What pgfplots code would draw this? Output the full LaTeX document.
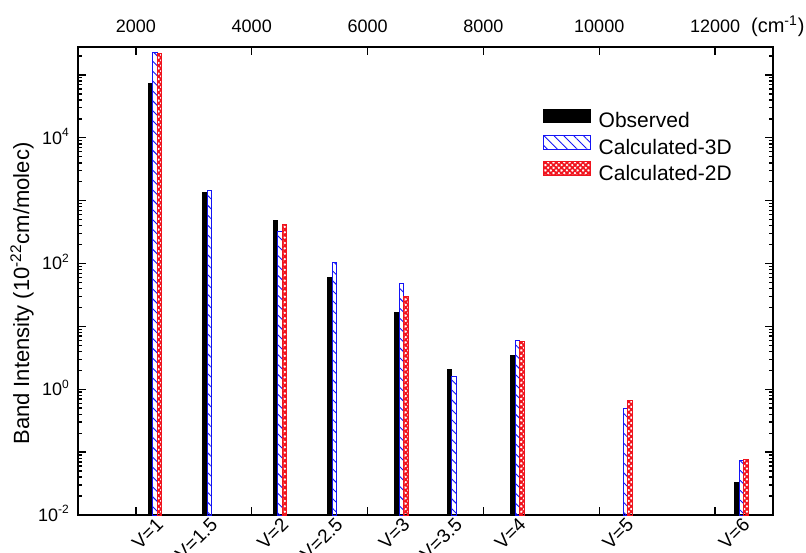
\documentclass[border=0pt]{standalone}
\usepackage{fontspec}
\setmainfont{Liberation Sans}
\usepackage{pgfplots}
\pgfplotsset{compat=1.18}
\usetikzlibrary{patterns.meta}
\definecolor{cB}{RGB}{20,20,245}
\definecolor{cR}{RGB}{240,20,30}
\tikzset{
  hatchB/.style={pattern={Lines[angle=-45,distance=3.5pt,line width=0.45pt]},pattern color=cB},
  hatchR/.style={pattern={Hatch[angle=45,distance=1.9pt,line width=0.85pt]},pattern color=cR},
}
\pgfplotsset{
  myframe/.style={
    at={(0,0)}, anchor=south west, scale only axis,
    width=347.5pt, height=234pt,
    xmin=1000, xmax=13000,
  },
}

\begin{document}
\begin{tikzpicture}
\useasboundingbox (-39pt,-18.5pt) rectangle (364pt,257.5pt);

% main axis: bars, log y, wavenumber ticks on top
\begin{axis}[
  myframe, clip mode=individual,
  ymode=log, ymin=1e-2, ymax=2.78e5, log origin y=infty,
  xtick={2000,4000,6000,8000,10000,12000},
  scaled x ticks=false,
  xticklabel pos=upper,
  xticklabel style={anchor=base, yshift=7.2pt,
    /pgf/number format/1000 sep={}, /pgf/number format/assume math mode=true},
  ytick={1e-2,1e-1,1,1e1,1e2,1e3,1e4,1e5},
  yticklabels={10\textsuperscript{-2},,10\textsuperscript{0},,10\textsuperscript{2},,10\textsuperscript{4},},
  minor ytick={0.02,0.03,0.04,0.05,0.06,0.07,0.08,0.09,
    0.2,0.3,0.4,0.5,0.6,0.7,0.8,0.9,
    2,3,4,5,6,7,8,9,
    20,30,40,50,60,70,80,90,
    200,300,400,500,600,700,800,900,
    2000,3000,4000,5000,6000,7000,8000,9000,
    20000,30000,40000,50000,60000,70000,80000,90000,200000},
  yticklabel style={anchor=base east, yshift=-3.2pt, xshift=-0.6pt},
  tick label style={font=\fontsize{9}{10}\selectfont},
  major tick length=4pt, minor tick length=2pt,
  tick style={black, line width=0.7pt},
  axis line style={line width=0.9pt},
  ylabel={Band Intensity (10\textsuperscript{-22}cm/molec)},
  ylabel style={at={(axis description cs:-0.0806,0.473)}, anchor=center,
    font=\fontsize{11}{12}\selectfont},
  legend style={at={(axis description cs:0.668,0.869)}, anchor=north west,
    draw=none, fill=none, inner sep=0pt, row sep=1.5pt, column sep=4pt,
    font=\fontsize{10.5}{12}\selectfont,
    nodes={inner sep=0pt, text height=7.6pt, text depth=2pt}},
  legend cell align=left,
]
\addplot[ybar, bar width=78, bar shift=-78, fill=black, draw=black, line width=0.4pt,
  legend image code/.code={\draw[fill=black,draw=black] (0pt,-0.2pt) rectangle (23.5pt,6.6pt);}]
  coordinates {(2330,7.4e4) (3270,1355) (4490,487) (5430,60.6) (6585,16.7)
               (7490,2.05) (8590,3.43) (12455,0.0326)};
\addlegendentry{Observed}
\addplot[ybar, bar width=78, bar shift=0, hatchB, draw=cB, line width=0.5pt,
  legend image code/.code={\draw[hatchB,draw=cB,line width=0.5pt] (0pt,-0.2pt) rectangle (23.5pt,6.6pt);}]
  coordinates {(2330,2.3e5) (3270,1455) (4490,326) (5430,105) (6585,47.3)
               (7490,1.59) (8590,6.0) (10450,0.50) (12455,0.0738)};
\addlegendentry{Calculated-3D}
\addplot[ybar, bar width=78, bar shift=78, hatchR, draw=cR, line width=0.5pt,
  legend image code/.code={\draw[hatchR,draw=cR,line width=0.5pt] (0pt,-0.2pt) rectangle (23.5pt,6.6pt);}]
  coordinates {(2330,2.2e5) (4490,416) (6585,29.7) (8590,5.78) (10450,0.66) (12455,0.0774)};
\addlegendentry{Calculated-2D}
\node[inner sep=0pt, anchor=base east, font=\fontsize{10}{11}\selectfont]
  at (axis description cs:1.046,1.0306) {(cm\textsuperscript{-1})};
\end{axis}

% overlay axis: band labels under the frame
\begin{axis}[
  myframe,
  ymin=0, ymax=1, ytick=\empty,
  axis line style={draw=none}, major tick length=0pt,
  xtick={2330,3270,4490,5430,6585,7490,8590,10450,12455},
  xticklabels={V=1,V=1.5,V=2,V=2.5,V=3,V=3.5,V=4,V=5,V=6},
  xticklabel pos=lower,
  xticklabel style={xshift=0pt, yshift=-0.5pt, rotate=45, anchor=north east,
    inner sep=0pt, font=\fontsize{9.5}{10}\selectfont},
]
\end{axis}
\end{tikzpicture}
\end{document}
